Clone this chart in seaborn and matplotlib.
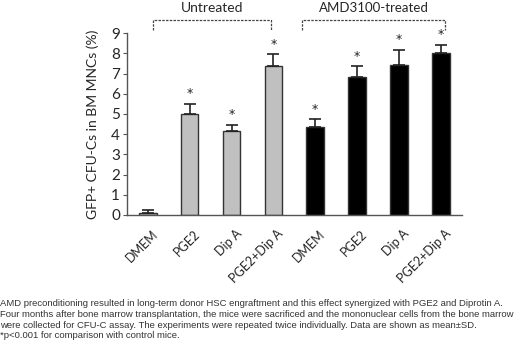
import numpy as np
import pandas as pd
import matplotlib.pyplot as plt
import matplotlib.transforms as mtransforms
import seaborn as sns

# Data
groups = ['Untreated'] * 4 + ['AMD3100-treated'] * 4
treatments = ['DMEM', 'PGE2', 'Dip A', 'PGE2+Dip A'] * 2
means = [0.1, 5.0, 4.15, 7.35, 4.35, 6.85, 7.4, 8.0]
sds = [0.15, 0.5, 0.3, 0.6, 0.38, 0.5, 0.78, 0.42]
significant = [False, True, True, True, True, True, True, True]

caption = ("AMD preconditioning resulted in long-term donor HSC engraftment and this effect synergized with PGE2 and Diprotin A.\n"
           "Four months after bone marrow transplantation, the mice were sacrificed and the mononuclear cells from the bone marrow\n"
           "were collected for CFU-C assay. The experiments were repeated twice individually. Data are shown as mean\u00b1SD.\n"
           "*p<0.001 for comparison with control mice.")

df = pd.DataFrame({'group': groups, 'treatment': treatments, 'mean': means, 'sd': sds})
df['key'] = df['group'] + ' ' + df['treatment']

sns.set_style('white')
plt.rcParams['font.family'] = ['Lato', 'DejaVu Sans']

fig = plt.figure(figsize=(5.2, 3.45), dpi=100)
ax = fig.add_axes([0.244, 0.377, 0.644, 0.527])

sns.barplot(data=df, x='key', y='mean', hue='group', order=list(df['key']),
            palette={'Untreated': '#c0c0c0', 'AMD3100-treated': '#000000'},
            width=0.42, edgecolor='#333333', linewidth=1.0, dodge=False,
            legend=False, ax=ax)

xs = np.arange(len(df))
ax.errorbar(xs, df['mean'], yerr=[np.zeros(len(df)), df['sd']], fmt='none',
            ecolor='#222222', elinewidth=1.2, capsize=4, capthick=1.2)
for x, m, s, sig in zip(xs, df['mean'], df['sd'], significant):
    if sig:
        ax.text(x, m + s + 0.5, '*', ha='center', va='center', fontsize=9,
                color='#222222', family='DejaVu Sans')

ax.set_xlim(-0.5, 7.5)
ax.set_ylim(0, 9)
ax.set_yticks(range(10))
ax.tick_params(axis='y', labelsize=11, length=3, direction='out', color='#555555', left=True, pad=2)
ax.set_ylabel('GFP+ CFU-Cs in BM MNCs (%)', fontsize=10, labelpad=9)
ax.set_xlabel('')
ax.set_xticks(xs)
ax.set_xticklabels(df['treatment'], rotation=45, ha='right', va='center',
                   rotation_mode='anchor', fontsize=9)
ax.tick_params(axis='x', length=0, pad=0)
shift = mtransforms.ScaledTranslation(0.08, -0.17, fig.dpi_scale_trans)
for lbl in ax.get_xticklabels():
    lbl.set_transform(lbl.get_transform() + shift)
ax.set_xticks(np.arange(0.5, 8, 1), minor=True)
ax.tick_params(axis='x', which='minor', length=3, direction='in', color='#777777')
for side in ['top', 'right']:
    ax.spines[side].set_visible(False)
for side in ['left', 'bottom']:
    ax.spines[side].set_color('#555555')
    ax.spines[side].set_linewidth(1)

# group brackets
for (x0, x1, label, fs) in [(0.12, 2.95, 'Untreated', 10), (3.69, 7.1, 'AMD3100-treated', 9.5)]:
    ax.plot([x0, x0, x1, x1], [9.15, 9.64, 9.64, 9.15], ls=(0, (2, 1)), color='#444444',
            lw=0.9, clip_on=False)
    ax.text((x0 + x1) / 2, 10.25, label, ha='center', va='center', fontsize=fs, clip_on=False)

fig.text(0.0, 0.133, caption, ha='left', va='top', fontsize=6.8, color='#333333',
         family=['Liberation Sans', 'DejaVu Sans'], linespacing=1.25)

fig.savefig('out.png', dpi=100)
